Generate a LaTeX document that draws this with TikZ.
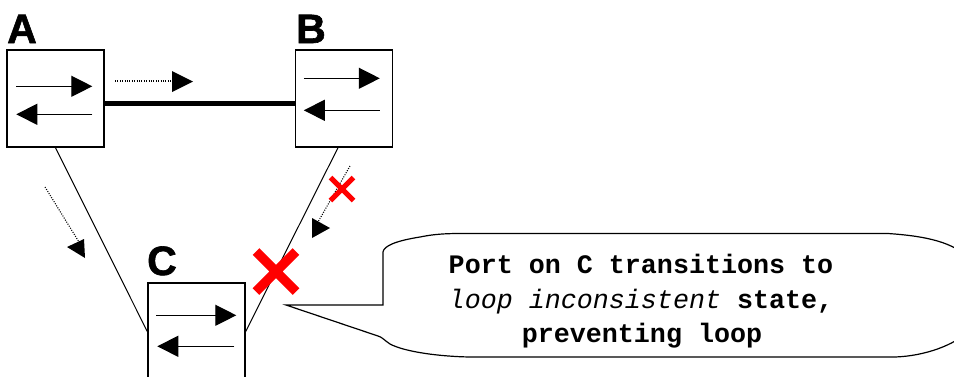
\documentclass[tikz,border=0pt]{standalone}
\usepackage{fontspec}
\newfontfamily\labfont{Liberation Sans}[BoldFeatures={FakeBold=1.5}]
\newfontfamily\monofont{Liberation Mono}
\usetikzlibrary{arrows.meta,calc}
\begin{document}
\begin{tikzpicture}[x=1pt,y=-1pt,
  switchbox/.style={draw,line width=1.4pt,minimum width=97pt,minimum height=97pt,inner sep=0pt},
  portarrow/.style={line width=1.3pt,-{Triangle[length=21pt,width=21pt]}},
  link/.style={line width=1pt},
  dotline/.style={line width=1.1pt,dash pattern=on 1pt off 1.4pt},
  redx/.style={draw=red,line cap=butt},
  lbl/.style={font=\labfont\bfseries\fontsize{41}{41}\selectfont,inner sep=0pt,anchor=base west},
  ctext/.style={font=\monofont\bfseries\fontsize{26.7}{35}\selectfont,inner sep=0pt,anchor=base}]
\useasboundingbox (0,0) rectangle (954,376);
\clip (0,0) rectangle (954,376);
\fill[white] (0,0) rectangle (954,376);

% switches
\node[switchbox] (A) at (55.5,98.5) {};
\node[switchbox] (B) at (344,98.5) {};
\node[switchbox] (C) at (196.5,331.5) {};

\node[lbl] (la) at (7,43) {A};
\node[lbl] (lb) at (296,43) {B};
\node[lbl] (lc) at (147,275) {C};

% port arrows
\draw[portarrow] ($(A.north west)+(10,37)$) -- ($(A.north west)+(86,37)$);
\draw[portarrow] ($(A.north west)+(86,65)$) -- ($(A.north west)+(10,65)$);
\draw[portarrow] ($(B.north west)+(9,29)$) -- ($(B.north west)+(85,29)$);
\draw[portarrow] ($(B.north west)+(85,61)$) -- ($(B.north west)+(9,61)$);
\draw[portarrow] ($(C.north west)+(9,33)$) -- ($(C.north west)+(89,33)$);
\draw[portarrow] ($(C.north west)+(87,64)$) -- ($(C.north west)+(10,64)$);

% links
\draw[line width=5pt] ([yshift=-4.5pt]A.east) -- ([yshift=-4.5pt]B.west);
\draw[link] (A.south) -- (C.west);
\draw[link] ([xshift=-6pt]B.south) -- (C.east);

% BPDU flow arrows
\draw[dotline] (115,81) -- (172,81);
\fill (172,71) -- (193,81.5) -- (172,92) -- cycle;
\draw[dotline] (45,187) -- (79,242);
\fill (67,247) -- (84,239) -- (85,258) -- cycle;
\draw[dotline] (350,166) -- (318,222);
\fill (312,218) -- (330,228) -- (312,238) -- cycle;

% red crosses
\draw[redx,line width=5pt] (342,189) +(-11.5,-11.5) -- +(11.5,11.5) +(-11.5,11.5) -- +(11.5,-11.5);
\draw[redx,line width=9.5pt] (276,271.5) +(-20,-20) -- +(20,20) +(-20,20) -- +(20,-20);

% callout
\coordinate (tip) at (286,305);
\draw[line width=1.2pt] (tip) -- (383,305) -- (383,252)
  .. controls (384,246) and (395,241) .. (420,237)
  .. controls (430,235) and (440,233.5) .. (460,233.5)
  -- (888,233.5)
  .. controls (925,236) and (955,242) .. (970,260)
  -- (970,330)
  .. controls (955,345) and (925,356) .. (895,357)
  -- (470,357)
  .. controls (440,356.5) and (405,352) .. (390,344)
  .. controls (384,340) and (382,337) .. (378,336)
  -- cycle;

\node[ctext] (t1) at (641,273) {Port on C transitions to};
\node[ctext] (t2) at (641,308) {{\mdseries\itshape loop inconsistent} state,};
\node[ctext] (t3) at (642,342) {preventing loop};
\end{tikzpicture}
\end{document}
